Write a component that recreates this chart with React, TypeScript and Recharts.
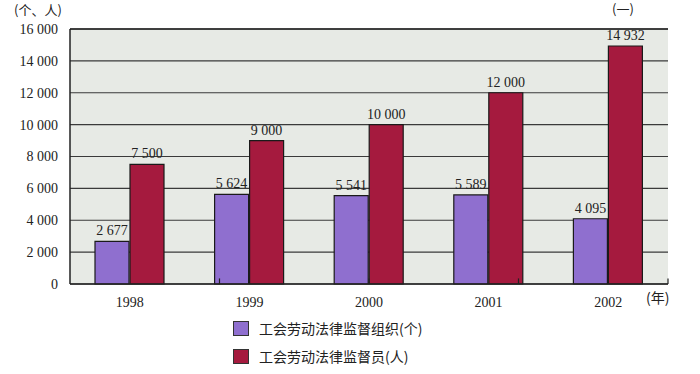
import { BarChart, Bar, XAxis, YAxis, CartesianGrid, LabelList, ReferenceLine, Legend } from "recharts";

const YEARS = ["1998", "1999", "2000", "2001", "2002"];
const ORGS = [2677, 5624, 5541, 5589, 4095];
const SUPERVISORS = [7500, 9000, 10000, 12000, 14932];
const Y_TICKS = [0, 2000, 4000, 6000, 8000, 10000, 12000, 14000, 16000];
const BOUNDARIES = [1, 2, 3, 4];

const ORG_NAME = "工会劳动法律监督组织(个)";
const SUP_NAME = "工会劳动法律监督员(人)";

const PURPLE = "#8f6fcf";
const RED = "#a51a3e";
const SERIF = "'Liberation Serif', 'DejaVu Serif', serif";
const CJK = "'Noto Sans CJK SC', sans-serif";

// thousands split by a non-breaking space, so labels never wrap
const fmt = (v: number) => {
  const s = String(v);
  return s.length > 3 ? `${s.slice(0, -3)}\u00a0${s.slice(-3)}` : s;
};

const chartData = YEARS.map((year, i) => ({
  year,
  orgs: ORGS[i],
  supervisors: SUPERVISORS[i],
}));

function LegendBox() {
  const items = [
    { name: ORG_NAME, color: PURPLE },
    { name: SUP_NAME, color: RED },
  ];
  return (
    <div style={{ paddingLeft: 233 }}>
      {items.map((it) => (
        <div key={it.name} style={{ display: "flex", alignItems: "center", height: 28 }}>
          <span
            style={{
              display: "inline-block",
              width: 14,
              height: 13,
              background: it.color,
              border: "1px solid #333",
              marginRight: 10,
            }}
          />
          <span style={{ fontFamily: CJK, fontSize: 14, color: "#222" }}>{it.name}</span>
        </div>
      ))}
    </div>
  );
}

export default function App() {
  return (
    <div style={{ position: "absolute", left: 0, top: 0, width: 700, height: 374, background: "#fff" }}>
      <BarChart
        width={700}
        height={374}
        data={chartData}
        margin={{ top: 29, right: 32, bottom: 4, left: 0 }}
        barSize={34}
        barGap={1}
      >
        <CartesianGrid
          vertical={false}
          fill="#e7eae5"
          stroke="#3a3a3a"
          strokeWidth={1.2}
          fillOpacity={1}
        />
        <XAxis
          dataKey="year"
          tickLine={false}
          axisLine={{ stroke: "#222", strokeWidth: 1.5 }}
          tick={{ fontFamily: SERIF, fontSize: 14, fill: "#222" }}
          tickMargin={7}
          height={30}
        />
        <XAxis xAxisId="b" type="number" domain={[0, 5]} hide />
        <YAxis
          domain={[0, 16000]}
          ticks={Y_TICKS}
          interval={0}
          tickFormatter={fmt}
          tickLine={false}
          axisLine={{ stroke: "#222", strokeWidth: 1.5 }}
          tick={{ fontFamily: SERIF, fontSize: 14, fill: "#222" }}
          tickMargin={6}
          width={70}
        />
        {BOUNDARIES.map((b) => (
          <ReferenceLine
            key={b}
            xAxisId="b"
            segment={[{ x: b, y: 0 }, { x: b, y: 350 }]}
            stroke="#222"
            strokeWidth={1.2}
          />
        ))}
        <ReferenceLine xAxisId="b" x={5} stroke="#222" strokeWidth={1.5} />
        <ReferenceLine y={16000} stroke="#222" strokeWidth={1.5} />
        <Legend verticalAlign="bottom" align="left" content={() => <LegendBox />} />
        <Bar dataKey="orgs" name={ORG_NAME} fill={PURPLE} stroke="#1a1a1a" strokeWidth={1.2} isAnimationActive={false}>
          <LabelList dataKey="orgs" position="top" formatter={(v: number) => fmt(v)} style={{ fontFamily: SERIF, fontSize: 14, fill: "#222" }} offset={6} />
        </Bar>
        <Bar dataKey="supervisors" name={SUP_NAME} fill={RED} stroke="#1a1a1a" strokeWidth={1.2} isAnimationActive={false}>
          <LabelList dataKey="supervisors" position="top" formatter={(v: number) => fmt(v)} style={{ fontFamily: SERIF, fontSize: 14, fill: "#222" }} offset={6} />
        </Bar>
      </BarChart>
      <div style={{ position: "absolute", left: 14, top: 1, fontFamily: CJK, fontSize: 13, lineHeight: "18px", color: "#222" }}>(个、人)</div>
      <div style={{ position: "absolute", left: 612, top: 0, fontFamily: CJK, fontSize: 13, lineHeight: "18px", color: "#222" }}>(一)</div>
      <div style={{ position: "absolute", left: 646, top: 288, fontFamily: CJK, fontSize: 14, lineHeight: "18px", color: "#222" }}>(年)</div>
    </div>
  );
}
